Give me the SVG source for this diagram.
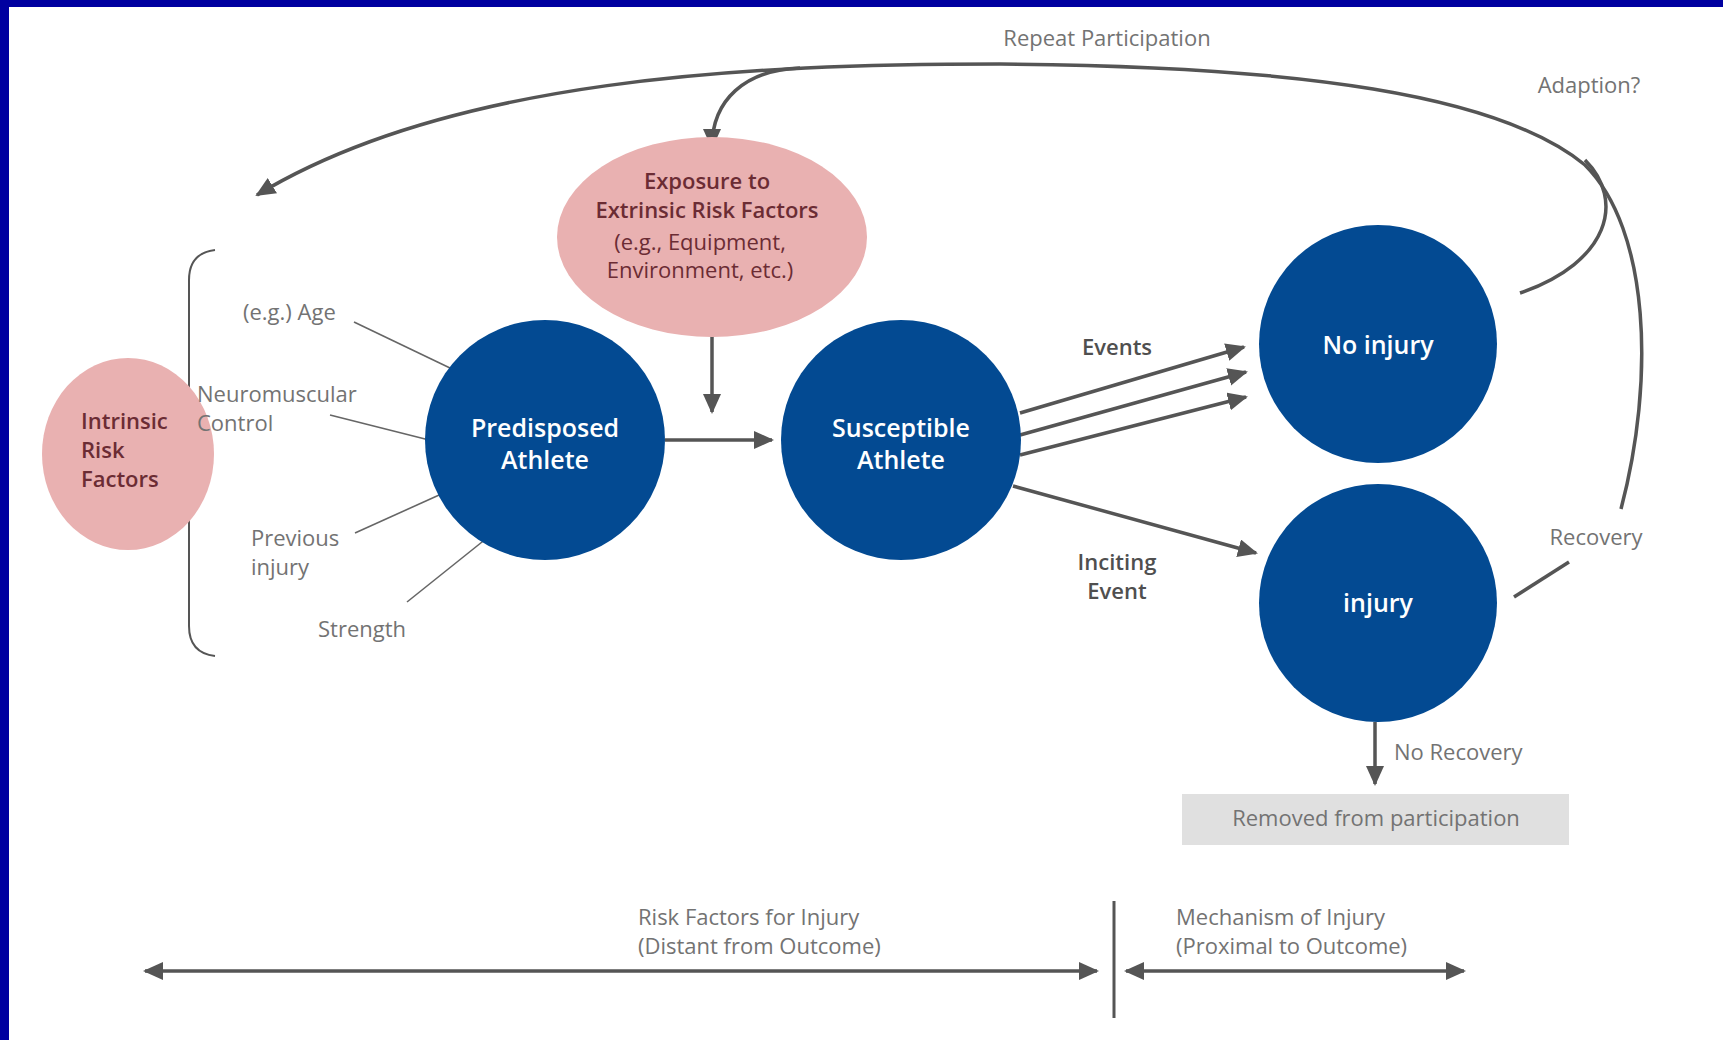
<svg xmlns="http://www.w3.org/2000/svg" width="1723" height="1040" viewBox="0 0 1723 1040">
<style>
.node{fill:#034a92}
.pink{fill:#e9b1b1}
.wt{font-family:"Open Sans","Liberation Sans",sans-serif;font-weight:600;fill:#ffffff;font-size:25px;text-anchor:middle}
.pt{font-family:"Open Sans","Liberation Sans",sans-serif;fill:#6b2c34;font-size:22px}
.gt{font-family:"Open Sans","Liberation Sans",sans-serif;fill:#737373;font-size:22px}
.dt{font-family:"Open Sans","Liberation Sans",sans-serif;fill:#4f4f4f;font-size:22px;font-weight:600;text-anchor:middle}
.ln{stroke:#555555;stroke-width:3.5;fill:none}
.thin{stroke:#666666;stroke-width:1.6;fill:none}
</style>
<defs>
<marker id="ah" markerUnits="userSpaceOnUse" markerWidth="24" markerHeight="20" refX="18" refY="9" orient="auto">
<path d="M0,0 L20,9 L0,18 Z" fill="#555555"/>
</marker>
<marker id="ahs" markerUnits="userSpaceOnUse" markerWidth="24" markerHeight="20" refX="18" refY="9" orient="auto-start-reverse">
<path d="M0,0 L20,9 L0,18 Z" fill="#555555"/>
</marker>
</defs>
<rect x="0" y="0" width="1723" height="1040" fill="#ffffff"/>
<rect x="0" y="0" width="1723" height="7" fill="#0000a0"/>
<rect x="0" y="0" width="9" height="1040" fill="#0000a0"/>

<g id="connectors">
<path class="ln" d="M1621,509 C1655,380 1650,230 1585,165 C1500,95 1300,66 1000,64 C750,64 450,78 257,195" marker-end="url(#ah)"/>
<path class="ln" d="M800,68 C745,70 712,100 712,147" marker-end="url(#ah)"/>
<path class="ln" d="M1520,293 C1610,262 1625,200 1585,160"/>
<path class="ln" d="M712,299 L712,412" marker-end="url(#ah)"/>
<path class="ln" d="M665,440 L772,440" marker-end="url(#ah)"/>
<path class="ln" d="M1020,413 L1244,347" marker-end="url(#ah)"/>
<path class="ln" d="M1020,435 L1246,372" marker-end="url(#ah)"/>
<path class="ln" d="M1020,455 L1246,397" marker-end="url(#ah)"/>
<path class="ln" d="M1013,486 L1256,553" marker-end="url(#ah)"/>
<path class="ln" d="M1375,722 L1375,784" marker-end="url(#ah)"/>
<path class="ln" d="M1514,597 L1569,562"/>
<path class="thin" d="M354,322 L450,368"/>
<path class="thin" d="M330,415 L437,442"/>
<path class="thin" d="M355,533 L448,491"/>
<path class="thin" d="M407,602 L487,538"/>
<path d="M215,250 C198,252 189,262 189,280 L189,626 C189,644 198,654 215,656" stroke="#555555" stroke-width="2" fill="none"/>
<path class="ln" d="M145,971 L1097,971" marker-start="url(#ahs)" marker-end="url(#ah)"/>
<path class="ln" d="M1126,971 L1464,971" marker-start="url(#ahs)" marker-end="url(#ah)"/>
<path d="M1114,901 L1114,1018" stroke="#555555" stroke-width="3" fill="none"/>
</g>

<g id="intrinsic">
<ellipse class="pink" cx="128" cy="454" rx="86" ry="96"/>
<text class="pt" font-weight="600" font-size="23"><tspan x="81" y="429">Intrinsic</tspan><tspan x="81" y="458">Risk</tspan><tspan x="81" y="487">Factors</tspan></text>
</g>

<g id="exposure">
<ellipse class="pink" cx="712" cy="237" rx="155" ry="100"/>
<text class="pt" text-anchor="middle" font-weight="600"><tspan x="707" y="189">Exposure to</tspan><tspan x="707" y="218">Extrinsic Risk Factors</tspan></text>
<text class="pt" text-anchor="middle" font-size="21"><tspan x="700" y="250">(e.g., Equipment,</tspan><tspan x="700" y="278">Environment, etc.)</tspan></text>
</g>

<g id="predisposed">
<circle class="node" cx="545" cy="440" r="120"/>
<text class="wt"><tspan x="545" y="437">Predisposed</tspan><tspan x="545" y="469">Athlete</tspan></text>
</g>

<g id="susceptible">
<circle class="node" cx="901" cy="440" r="120"/>
<text class="wt"><tspan x="901" y="437">Susceptible</tspan><tspan x="901" y="469">Athlete</tspan></text>
</g>

<g id="noinjury">
<circle class="node" cx="1378" cy="344" r="119"/>
<text class="wt" x="1378" y="354">No injury</text>
</g>

<g id="injury">
<circle class="node" cx="1378" cy="603" r="119"/>
<text class="wt" x="1378" y="612">injury</text>
</g>

<g id="removed">
<rect x="1182" y="794" width="387" height="51" fill="#e0e0e0"/>
<text class="gt" x="1376" y="826" text-anchor="middle">Removed from participation</text>
</g>

<g id="labels">
<text class="gt" x="1107" y="46" text-anchor="middle">Repeat Participation</text>
<text class="gt" x="1589" y="93" text-anchor="middle">Adaption?</text>
<text class="gt" x="243" y="320">(e.g.) Age</text>
<text class="gt"><tspan x="197" y="402">Neuromuscular</tspan><tspan x="197" y="431">Control</tspan></text>
<text class="gt"><tspan x="251" y="546">Previous</tspan><tspan x="251" y="575">injury</tspan></text>
<text class="gt" x="318" y="637">Strength</text>
<text class="dt" x="1117" y="355">Events</text>
<text class="dt"><tspan x="1117" y="570">Inciting</tspan><tspan x="1117" y="599">Event</tspan></text>
<text class="gt" x="1596" y="545" text-anchor="middle">Recovery</text>
<text class="gt" x="1394" y="760">No Recovery</text>
<text class="gt"><tspan x="638" y="925">Risk Factors for Injury</tspan><tspan x="638" y="954">(Distant from Outcome)</tspan></text>
<text class="gt"><tspan x="1176" y="925">Mechanism of Injury</tspan><tspan x="1176" y="954">(Proximal to Outcome)</tspan></text>
</g>
</svg>
